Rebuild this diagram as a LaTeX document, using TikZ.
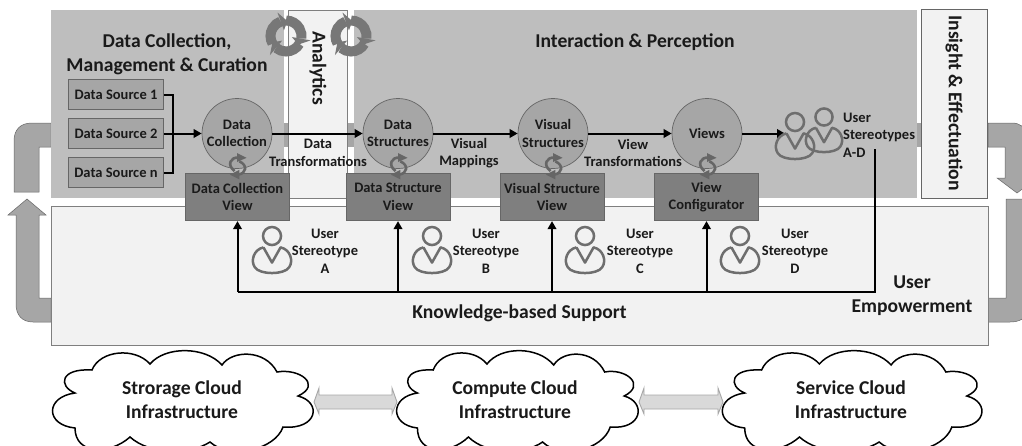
\documentclass[tikz,border=0pt]{standalone}
\usepackage{fontspec}
\setmainfont{Carlito}
\usetikzlibrary{arrows.meta,calc}
\definecolor{panel}{HTML}{BEBEBE}
\definecolor{pale}{HTML}{F2F2F2}
\definecolor{midg}{HTML}{A6A6A6}
\definecolor{darkg}{HTML}{7F7F7F}
\definecolor{edgeg}{HTML}{666666}
\definecolor{icong}{HTML}{6E6E6E}
\definecolor{ringg}{HTML}{777777}
\definecolor{txt}{HTML}{1A1A1A}
\tikzset{
  lbl/.style={font=\fontsize{14.5}{17.5}\selectfont\bfseries,text=txt,align=center,inner sep=0pt},
  headtxt/.style={font=\fontsize{19.6}{24}\selectfont\bfseries,text=txt,align=center,inner sep=0pt},
  cloudtxt/.style={font=\fontsize{19.6}{24}\selectfont\bfseries,text=txt,align=center,inner sep=0pt},
  srcbox/.style={draw=edgeg,fill=midg,line width=.9pt,minimum width=95pt,minimum height=30pt,lbl},
  viewbox/.style={draw=edgeg,fill=darkg,line width=.7pt,minimum width=104pt,minimum height=47.5pt,lbl},
  procnode/.style={circle,draw=edgeg,fill=midg,line width=.7pt,minimum size=70pt,lbl},
  flow/.style={draw=black,line width=2pt,-{Triangle[length=8pt,width=8.5pt]}},
  plainline/.style={draw=black,line width=2pt},
  bigflow/.style={fill=midg,draw=edgeg,line width=.5pt},
  biarrow/.style={draw=midg,fill=black!15,line width=.9pt},
  cloudline/.style={draw=black,fill=white,line width=1.5pt},
  iconline/.style={draw=icong,line width=2.5pt},
  ringarc/.style={draw=ringg,line width=10pt},
  curl/.style={draw=edgeg,line width=2.6pt}
}
% person icon: head centre #1,#2; scale #3
\newcommand{\personicon}[3]{%
  \begin{scope}[shift={(#1,#2)},scale=#3]
    \draw[iconline] (0,0) circle (9.5);
    \draw[iconline,line join=round] (-9,12) -- (0,28) -- (9,12)
      .. controls (19,14) and (23,26) .. (18,33)
      .. controls (13,41) and (-13,41) .. (-18,33)
      .. controls (-23,26) and (-19,14) .. (-9,12);
  \end{scope}}
% recycling ring centred at #1,#2
\newcommand{\ringicon}[2]{%
  \begin{scope}[shift={(#1,#2)}]
    \foreach \a in {-90,30,150}{
      \draw[ringarc] (\a:15.5) arc[start angle=\a,delta angle=100,radius=15.5];
      \fill[ringg] (\a+100:6) -- (\a+100:25) -- (\a+125:15) -- cycle;
    }
  \end{scope}}
% small curl pair centred at #1,#2
\newcommand{\curlicon}[2]{%
  \begin{scope}[shift={(#1,#2)},scale=1.2]
    \draw[curl] (-2,5) .. controls (-9,0) and (-5,-7) .. (1,-6);
    \fill[edgeg] (0,-10) -- (8,-6) -- (0,-2.5) -- cycle;
    \draw[curl] (2,-3) .. controls (9,0) and (8,7) .. (1,8);
    \fill[edgeg] (2,4) -- (-6,8) -- (2,12) -- cycle;
  \end{scope}}
\newcommand{\cloudshape}{%
  (75,393) .. controls (58,386) and (60,368) .. (92,370)
  .. controls (100,350) and (135,347) .. (150,364)
  .. controls (165,346) and (205,346) .. (222,365)
  .. controls (232,350) and (265,349) .. (277,372)
  .. controls (300,368) and (322,385) .. (298,396)
  .. controls (322,402) and (318,430) .. (283,427)
  .. controls (275,450) and (230,460) .. (210,442)
  .. controls (190,455) and (150,455) .. (130,437)
  .. controls (110,455) and (75,455) .. (75,428)
  .. controls (45,425) and (45,397) .. (75,393) -- cycle}
% block double arrow between two named coordinates
\newcommand{\blockarrow}[2]{%
  \path[biarrow] (#1) -- ($(#1)+(5,-14)$) -- ($(#1)+(5,-7)$) -- ($(#2)+(-5,-7)$) -- ($(#2)+(-5,-14)$)
    -- (#2) -- ($(#2)+(-5,12)$) -- ($(#2)+(-5,7)$) -- ($(#1)+(5,7)$) -- ($(#1)+(5,12)$) -- cycle;}
\begin{document}
\begin{tikzpicture}[x=1pt,y=-1pt]
\useasboundingbox (0,0) rectangle (1022,445);
\begin{scope}
\clip (0,0) rectangle (1022,445);
% big loop arrows
\path[bigflow] (51,123) -- (32,123) .. controls (20,123) and (14,130) .. (14,141) -- (14,192) -- (39,192) -- (39,147) -- (51,147) -- cycle;
\path[bigflow] (51,322) -- (33,322) .. controls (22,322) and (16,315) .. (16,304) -- (16,215) -- (8,215) -- (27,199) -- (46,215) -- (39,215) -- (39,298) -- (51,298) -- cycle;
\path[bigflow] (988,123) -- (1012,123) .. controls (1020,123) and (1026,128) .. (1030,135) -- (1030,178) -- (1037,178) -- (1017,193) -- (997,178) -- (1005,178) -- (1005,147) -- (988,147) -- cycle;
\path[bigflow] (988,298) -- (1006,298) -- (1006,199) -- (1030,199) -- (1030,310) .. controls (1026,318) and (1020,322) .. (1010,322) -- (988,322) -- cycle;
% panels
\fill[panel] (51,10) rectangle (284,198);
\fill[panel] (354,10) rectangle (917,198);
\fill[midg] (284,123) rectangle (288,147);
\fill[midg] (347,123) rectangle (354,147);
\fill[midg] (917,123) rectangle (921,147);
\draw[draw=darkg,fill=pale,line width=.7pt] (288,10) rectangle (347,198);
\draw[draw=edgeg,fill=pale,line width=.7pt] (921,9) rectangle (987,198);
\draw[draw=darkg,fill=pale,line width=.8pt] (51,206) rectangle (988,345);
\ringicon{286}{36}
\ringicon{351}{36}
% headings
\node[headtxt] (hdata) at (167,54) {Data Collection,\\Management \& Curation};
\node[headtxt] (hint) at (635,42) {Interaction \& Perception};
\node[headtxt,rotate=-90] (hana) at (318,68) {Analytics};
\node[headtxt,rotate=-90] (hins) at (954,103) {Insight \& Effectuation};
% sources
\node[srcbox] (ds1) at (116,94.5) {Data Source 1};
\node[srcbox] (ds2) at (116,133.5) {Data Source 2};
\node[srcbox] (dsn) at (116,172.5) {Data Source n};
% process nodes
\node[procnode] (dc) at (237,133.5) {Data\\Collection};
\node[procnode] (dst) at (398,133.5) {Data\\Structures};
\node[procnode] (vst) at (553,133.5) {Visual\\Structures};
\node[procnode] (vws) at (707,133.5) {Views};
% view boxes
\node[viewbox] (dcv) at (237.5,197) {Data Collection\\View};
\node[viewbox] (dsv) at (398,197) {Data Structure\\View};
\node[viewbox] (vsv) at (552,197) {Visual Structure\\View};
\node[viewbox] (vcf) at (706.5,197) {View\\Configurator};
\curlicon{237}{165}
\curlicon{398}{165}
\curlicon{553}{165}
\curlicon{707}{165}
% flows
\coordinate (bus1) at (173,94.5);
\coordinate (busn) at (173,172.5);
\coordinate (stereo) at (785,133.5);
\coordinate (sttop) at (875,149);
\coordinate (supR) at (875,292);
\coordinate (supL) at (237.5,292);
\draw[plainline,line join=miter] (ds1.east) -- (bus1) -- (busn) -- (dsn.east);
\draw[flow] (ds2.east) -- (dc.west);
\draw[flow] (dc.east) -- (dst.west);
\draw[flow] (dst.east) -- (vst.west);
\draw[flow] (vst.east) -- (vws.west);
\draw[flow] (vws.east) -- (stereo);
\draw[plainline,line join=miter] (sttop) -- (supR) -- (supL);
\draw[flow] (supL) -- (dcv.south);
\draw[flow] (dsv.south |- supR) -- (dsv.south);
\draw[flow] (vsv.south |- supR) -- (vsv.south);
\draw[flow] (vcf.south |- supR) -- (vcf.south);
% flow labels
\node[lbl] (t1) at (318,153) {Data\\Transformations};
\node[lbl] (t2) at (469,153) {Visual\\Mappings};
\node[lbl] (t3) at (633,153) {View\\Transformations};
% stereotypes
\personicon{272}{236}{.95}
\personicon{432}{236}{.95}
\personicon{585}{236}{.95}
\personicon{740}{236}{.95}
\node[lbl] (sa) at (325,251) {User\\Stereotype\\A};
\node[lbl] (sb) at (486,251) {User\\Stereotype\\B};
\node[lbl] (sc) at (640,251) {User\\Stereotype\\C};
\node[lbl] (sd) at (795,251) {User\\Stereotype\\D};
\personicon{824}{117}{.9}
\personicon{795}{122}{.95}
\node[lbl,align=left,anchor=west] (sad) at (843,135) {User\\Stereotypes\\A-D};
\node[cloudtxt] (ks) at (519.5,313) {Knowledge-based Support};
\node[cloudtxt] (ue) at (912,296) {User\\Empowerment};
% clouds
\path[cloudline] \cloudshape;
\begin{scope}[shift={(347.9,0)},xscale=.927]
\path[cloudline] \cloudshape;
\end{scope}
\begin{scope}[shift={(670,0)},xscale=.996]
\path[cloudline] \cloudshape;
\end{scope}
\node[cloudtxt] (c1) at (182,400) {Strorage Cloud\\Infrastructure};
\node[cloudtxt] (c2) at (515,400) {Compute Cloud\\Infrastructure};
\node[cloudtxt] (c3) at (851,400) {Service Cloud\\Infrastructure};
\coordinate (c1r) at (314,402);
\coordinate (c2l) at (397,402);
\coordinate (c2r) at (639,402);
\coordinate (c3l) at (723,402);
\blockarrow{c1r}{c2l}
\blockarrow{c2r}{c3l}
\end{scope}
\end{tikzpicture}
\end{document}
